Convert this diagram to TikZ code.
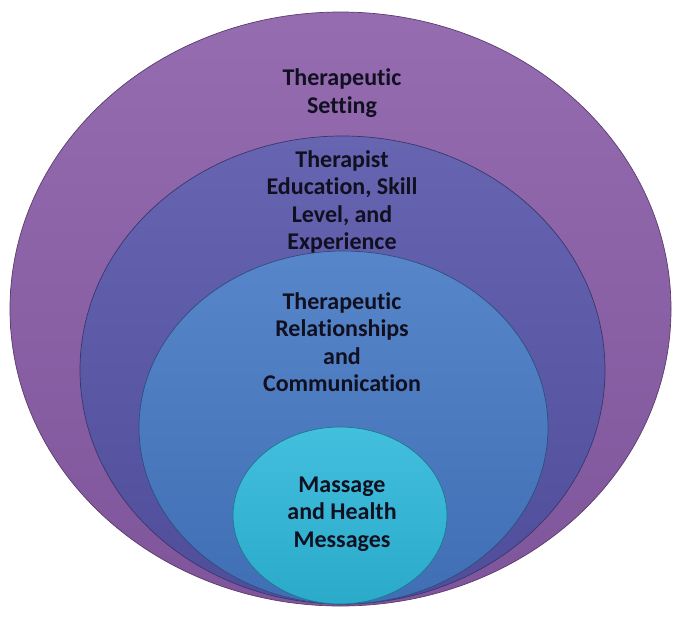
\documentclass[tikz,border=0pt]{standalone}
\usepackage{fontspec}
\setmainfont{Carlito}[RawFeature={-liga;-clig;-calt}]
\usepackage{tikz}
\usetikzlibrary{positioning,shapes.geometric}
\definecolor{setg}{HTML}{8A5CA8}
\definecolor{ther}{HTML}{5654A8}
\definecolor{rela}{HTML}{4578C4}
\definecolor{mass}{HTML}{2EB8DA}
\definecolor{ink}{HTML}{101020}

\begin{document}
\begin{tikzpicture}[x=1pt, y=-1pt,
  ring/.style={ellipse, inner sep=0pt, draw=#1!65!black, line width=0.7pt,
    top color=#1!90!white, bottom color=#1!92!black},
  lbl/.style={font=\bfseries\fontsize{24}{27.5}\selectfont, align=center, text=ink}]
\useasboundingbox[fill=white] (0,0) rectangle (679,622);
% nested rings, all resting on the same bottom point
\node[ring=setg, minimum width=661pt, minimum height=594pt] (setting) at (340.5,309) {};
\node[ring=ther, minimum width=525pt, minimum height=468pt] (therapist) at (342.5,370) {};
\node[ring=rela, minimum width=409pt, minimum height=353pt] (relation) at (343.5,427.5) {};
\node[ring=mass, minimum width=214pt, minimum height=177pt] (massage) at (340,515.5) {};
% labels
\node[lbl] (settingtxt) at (342,93) {Therapeutic\\Setting};
\node[lbl] (therapisttxt) at (342,202) {Therapist\\Education, Skill\\Level, and\\Experience};
\node[lbl] (relationtxt) at (342,342) {Therapeutic\\Relationships\\and\\Communication};
\node[lbl] (massagetxt) at (342,514) {Massage\\and Health\\Messages};
\end{tikzpicture}
\end{document}
